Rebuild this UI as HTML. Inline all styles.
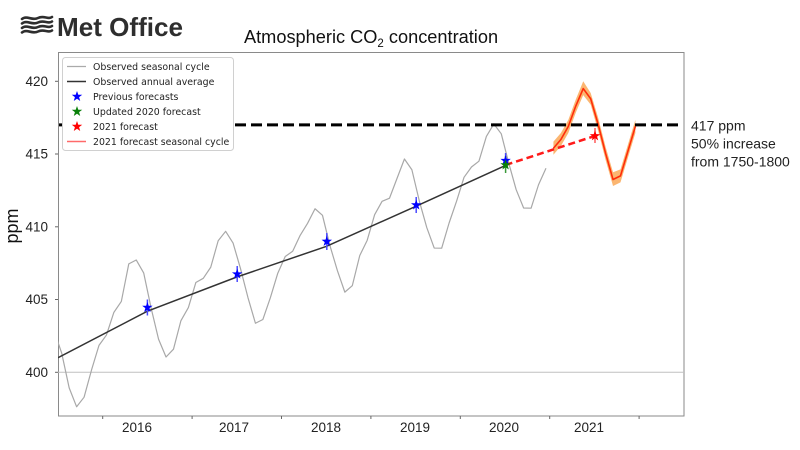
<!DOCTYPE html>
<html><head><meta charset="utf-8"><style>
html,body{margin:0;padding:0;background:#fff;}
svg{display:block;}
</style></head><body>
<svg width="800" height="450" viewBox="0 0 800 450" xmlns="http://www.w3.org/2000/svg">
<defs>
<clipPath id="pc"><rect x="58" y="52" width="626" height="364"/></clipPath>
</defs>
<rect width="800" height="450" fill="#fff"/>

<!-- Met Office logo -->
<g fill="none" stroke="#2e2e2e" stroke-width="2.6" stroke-linecap="round">
<path d="M22,19 C27,15 32,21 38,18 C44,15 48,20 52,17"/>
<path d="M22,23.5 C27,19.5 32,25.5 38,22.5 C44,19.5 48,24.5 52,21.5"/>
<path d="M22,28 C27,24 32,30 38,27 C44,24 48,29 52,26"/>
<path d="M22,32.5 C27,28.5 32,34.5 38,31.5 C44,28.5 48,33.5 52,30.5"/>
</g>
<text x="57" y="36" font-family="Liberation Sans, sans-serif" font-weight="bold" font-size="26" fill="#2e2e2e" textLength="126" lengthAdjust="spacingAndGlyphs">Met Office</text>

<!-- Title -->
<text x="244" y="43" font-family="Liberation Sans, sans-serif" font-size="18.2" fill="#111">Atmospheric CO<tspan font-size="11.5" dy="4">2</tspan><tspan dy="-4"> concentration</tspan></text>

<!-- Frame -->
<rect x="58.5" y="52.5" width="625.5" height="363.5" fill="none" stroke="#8a8a8a" stroke-width="1"/>

<!-- 400 reference line -->
<line x1="58" y1="372.3" x2="684" y2="372.3" stroke="#c0c0c0" stroke-width="1"/>

<!-- Y ticks and labels -->
<g stroke="#666" stroke-width="1">
<line x1="55" y1="81.3" x2="58" y2="81.3"/>
<line x1="55" y1="154" x2="58" y2="154"/>
<line x1="55" y1="226.8" x2="58" y2="226.8"/>
<line x1="55" y1="299.5" x2="58" y2="299.5"/>
<line x1="55" y1="372.3" x2="58" y2="372.3"/>
</g>
<g font-family="Liberation Sans, sans-serif" font-size="13.5" fill="#222" text-anchor="end">
<text x="48" y="86">420</text>
<text x="48" y="158.5">415</text>
<text x="48" y="231.5">410</text>
<text x="48" y="304">405</text>
<text x="48" y="377">400</text>
</g>
<text transform="rotate(-90 18 226)" x="18" y="226" font-family="Liberation Sans, sans-serif" font-size="18" fill="#111" text-anchor="middle">ppm</text>

<!-- X ticks and labels -->
<g stroke="#666" stroke-width="1">
<line x1="102.7" y1="416" x2="102.7" y2="419"/>
<line x1="192.1" y1="416" x2="192.1" y2="419"/>
<line x1="281.5" y1="416" x2="281.5" y2="419"/>
<line x1="370.9" y1="416" x2="370.9" y2="419"/>
<line x1="460.3" y1="416" x2="460.3" y2="419"/>
<line x1="549.7" y1="416" x2="549.7" y2="419"/>
<line x1="639.1" y1="416" x2="639.1" y2="419"/>
</g>
<g font-family="Liberation Sans, sans-serif" font-size="13.5" fill="#222" text-anchor="middle">
<text x="137" y="432">2016</text>
<text x="234" y="432">2017</text>
<text x="326" y="432">2018</text>
<text x="415" y="432">2019</text>
<text x="504" y="432">2020</text>
<text x="589" y="432">2021</text>
</g>

<g clip-path="url(#pc)">
<g transform="matrix(7.45 0 0 -14.55 17.03 6192.3)">
<polyline fill="none" stroke="#a8a8a8" stroke-width="1.2" vector-effect="non-scaling-stroke" stroke-linejoin="round"
points="5,402.80 6,401.31 7,398.93 8,397.63 9,398.29 10,400.16 11,401.85 12,402.56 13,404.12 14,404.87 15,407.45 16,407.72 17,406.83 18,404.41 19,402.27 20,401.05 21,401.59 22,403.55 23,404.45 24,406.17 25,406.46 26,407.22 27,409.04 28,409.69 29,408.88 30,407.12 31,405.13 32,403.37 33,403.63 34,405.12 35,406.81 36,407.96 37,408.32 38,409.41 39,410.24 40,411.24 41,410.79 42,408.71 43,406.99 44,405.51 45,405.95 46,408.02 47,409.07 48,410.83 49,411.75 50,411.97 51,413.32 52,414.66 53,413.92 54,411.77 55,409.95 56,408.54 57,408.53 58,410.27 59,411.76 60,413.40 61,414.11 62,414.51 63,416.21 64,417.07 65,416.39 66,414.38 67,412.55 68,411.29 69,411.28 70,412.89 71,414.02"/>
<polyline fill="none" stroke="#333" stroke-width="1.5" vector-effect="non-scaling-stroke"
points="5.5,401.0 17.5,404.2 29.5,406.55 41.5,408.65 53.5,411.4 65.5,414.2"/>
<polygon fill="#fbae62" fill-opacity="0.9"
points="72,415.85 73,416.45 74,417.35 75,418.75 76,420.0 77,419.2 78,417.5 79,415.5 80,413.75 81,413.95 82,415.65 83,417.35 83,416.45 82,414.75 81,413.05 80,412.8 79,414.6 78,416.6 77,418.4 76,419.05 75,417.85 74,416.45 73,415.55 72,414.95"/>
<polyline fill="none" stroke="#ff2d0a" stroke-width="1.6" vector-effect="non-scaling-stroke" stroke-linejoin="round"
points="72,415.4 73,416.0 74,416.9 75,418.3 76,419.5 77,418.8 78,417.05 79,415.05 80,413.25 81,413.5 82,415.2 83,416.9"/>
</g>

<line x1="59" y1="124.9" x2="680" y2="124.9" stroke="#000" stroke-width="3" stroke-dasharray="11 5"/>

<line x1="505.6" y1="165" x2="595" y2="135.9" stroke="#ff1a1a" stroke-width="2.5" stroke-dasharray="7 4"/>

<g stroke-width="1.5">
<line x1="147.4" y1="299.5" x2="147.4" y2="315.5" stroke="#4a4aff"/>
<line x1="237.2" y1="266" x2="237.2" y2="282" stroke="#4a4aff"/>
<line x1="326.8" y1="233" x2="326.8" y2="250" stroke="#4a4aff"/>
<line x1="416.2" y1="197" x2="416.2" y2="213" stroke="#4a4aff"/>
<line x1="505.6" y1="153" x2="505.6" y2="168" stroke="#4a4aff"/>
<line x1="505.6" y1="156" x2="505.6" y2="173" stroke="#3a9a3a"/>
<line x1="595" y1="128" x2="595" y2="143" stroke="#ff5a5a"/>
</g>
<g>
<path transform="translate(147.4 307.5)" fill="#0000ff" d="M0,-5.5 L1.29,-1.78 L5.23,-1.70 L2.09,0.68 L3.23,4.45 L0,2.2 L-3.23,4.45 L-2.09,0.68 L-5.23,-1.70 L-1.29,-1.78 Z"/>
<path transform="translate(237.2 274.1)" fill="#0000ff" d="M0,-5.5 L1.29,-1.78 L5.23,-1.70 L2.09,0.68 L3.23,4.45 L0,2.2 L-3.23,4.45 L-2.09,0.68 L-5.23,-1.70 L-1.29,-1.78 Z"/>
<path transform="translate(326.8 241.4)" fill="#0000ff" d="M0,-5.5 L1.29,-1.78 L5.23,-1.70 L2.09,0.68 L3.23,4.45 L0,2.2 L-3.23,4.45 L-2.09,0.68 L-5.23,-1.70 L-1.29,-1.78 Z"/>
<path transform="translate(416.2 205)" fill="#0000ff" d="M0,-5.5 L1.29,-1.78 L5.23,-1.70 L2.09,0.68 L3.23,4.45 L0,2.2 L-3.23,4.45 L-2.09,0.68 L-5.23,-1.70 L-1.29,-1.78 Z"/>
<path transform="translate(505.6 160.6)" fill="#0000ff" d="M0,-5.5 L1.29,-1.78 L5.23,-1.70 L2.09,0.68 L3.23,4.45 L0,2.2 L-3.23,4.45 L-2.09,0.68 L-5.23,-1.70 L-1.29,-1.78 Z"/>
<path transform="translate(505.6 165)" fill="#0a800a" d="M0,-5.5 L1.29,-1.78 L5.23,-1.70 L2.09,0.68 L3.23,4.45 L0,2.2 L-3.23,4.45 L-2.09,0.68 L-5.23,-1.70 L-1.29,-1.78 Z"/>
<path transform="translate(595 135.9)" fill="#ff0000" d="M0,-5.5 L1.29,-1.78 L5.23,-1.70 L2.09,0.68 L3.23,4.45 L0,2.2 L-3.23,4.45 L-2.09,0.68 L-5.23,-1.70 L-1.29,-1.78 Z"/>
</g>
</g>

<!-- Legend -->
<rect x="62.5" y="57.5" width="171" height="93" rx="3" fill="#fff" stroke="#d0d0d0" stroke-width="1"/>
<line x1="67" y1="66.5" x2="86" y2="66.5" stroke="#aaa" stroke-width="1.3"/>
<line x1="67" y1="81.5" x2="86" y2="81.5" stroke="#333" stroke-width="1.5"/>
<path transform="translate(77 96.5)" fill="#0000ff" d="M0,-5.5 L1.29,-1.78 L5.23,-1.70 L2.09,0.68 L3.23,4.45 L0,2.2 L-3.23,4.45 L-2.09,0.68 L-5.23,-1.70 L-1.29,-1.78 Z"/>
<path transform="translate(77 111.5)" fill="#0a800a" d="M0,-5.5 L1.29,-1.78 L5.23,-1.70 L2.09,0.68 L3.23,4.45 L0,2.2 L-3.23,4.45 L-2.09,0.68 L-5.23,-1.70 L-1.29,-1.78 Z"/>
<path transform="translate(77 126.5)" fill="#ff0000" d="M0,-5.5 L1.29,-1.78 L5.23,-1.70 L2.09,0.68 L3.23,4.45 L0,2.2 L-3.23,4.45 L-2.09,0.68 L-5.23,-1.70 L-1.29,-1.78 Z"/>
<line x1="67" y1="141.5" x2="86" y2="141.5" stroke="#ff6a6a" stroke-width="1.5"/>
<g font-family="DejaVu Sans, sans-serif" font-size="9.4" fill="#222">
<text x="93" y="70">Observed seasonal cycle</text>
<text x="93" y="85">Observed annual average</text>
<text x="93" y="100">Previous forecasts</text>
<text x="93" y="115">Updated 2020 forecast</text>
<text x="93" y="130">2021 forecast</text>
<text x="93" y="145">2021 forecast seasonal cycle</text>
</g>

<!-- Right annotation -->
<g font-family="Liberation Sans, sans-serif" font-size="14" fill="#222">
<text x="691" y="130.5">417 ppm</text>
<text x="691" y="148.5">50% increase</text>
<text x="691" y="166.5">from 1750-1800</text>
</g>
</svg>
</body></html>
